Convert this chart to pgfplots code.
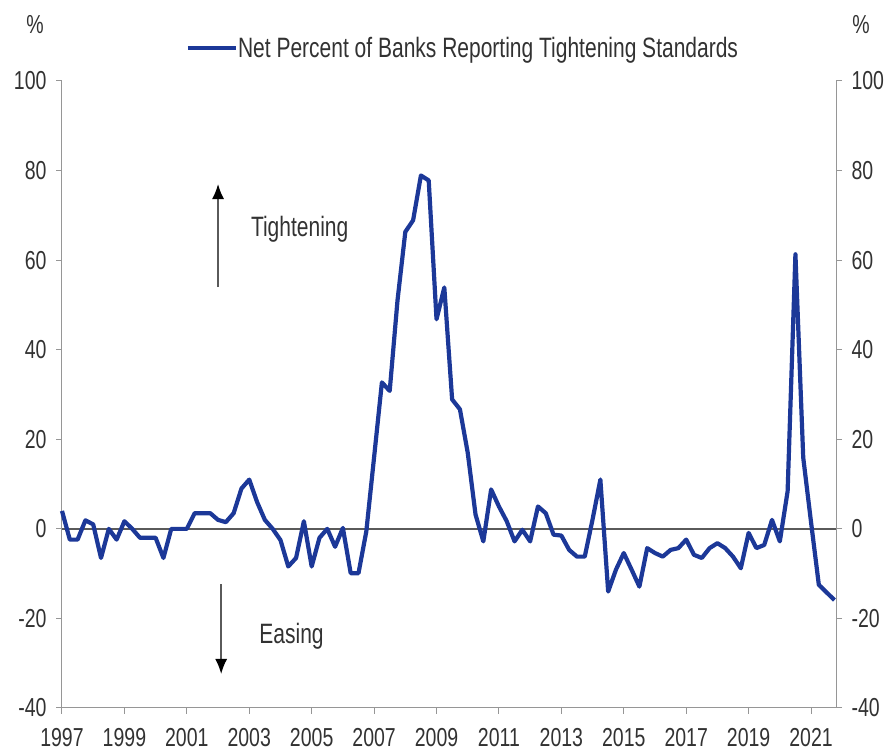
\documentclass[border=0pt]{standalone}
\usepackage{fontspec}
\setmainfont{Liberation Sans}[FakeStretch=0.75]
\usepackage{pgfplots}
\pgfplotsset{compat=1.18}
\usetikzlibrary{arrows.meta}
\definecolor{lineblue}{RGB}{28,56,152}
\definecolor{txt}{RGB}{50,50,50}
\definecolor{axgray}{RGB}{150,150,150}
\definecolor{zerogray}{RGB}{90,90,90}
\newcommand{\bigfont}{\fontsize{26}{30}\selectfont}
\newcommand{\annfont}{\fontsize{28}{32}\selectfont}
\begin{document}
\begin{tikzpicture}[font=\bigfont]
\useasboundingbox (-62pt,-47pt) rectangle (825pt,708pt);
\begin{axis}[
  at={(0pt,0pt)}, anchor=south west,
  scale only axis, width=774pt, height=627pt,
  xmin=1997, xmax=2021.8, ymin=-40, ymax=100,
  xtick={1997,1999,...,2021}, ytick={-40,-20,...,100},
  axis x line*=bottom, axis y line*=left,
  tick align=outside, major tick length=6pt,
  axis line style={axgray, line width=1pt},
  tick style={axgray, line width=1pt},
  /pgf/number format/assume math mode=true,
  x tick label style={/pgf/number format/1000 sep={}, font=\bigfont, text=txt, yshift=-11pt},
  y tick label style={font=\bigfont, text=txt, xshift=-6pt},
  legend style={at={(0.160,1.0526)}, anchor=west, draw=none, fill=none,
    font=\annfont, text=txt, inner sep=0pt, outer sep=0pt,
    nodes={inner xsep=0pt, inner ysep=0pt}},
  legend image code/.code={\draw[#1] (0pt,0pt) -- (48pt,0pt);},
  clip=false,
]
\addplot[zerogray, line width=1.8pt, forget plot] coordinates {(1997,0) (2021.8,0)};
\addplot[lineblue, line width=4.2pt, line join=round] coordinates {
(1997.00,4) (1997.25,-2.4) (1997.50,-2.4) (1997.75,1.9)
(1998.00,1) (1998.25,-6.5) (1998.50,0) (1998.75,-2.4)
(1999.00,1.7) (1999.25,0) (1999.50,-2) (1999.75,-2)
(2000.00,-2) (2000.25,-6.5) (2000.50,0) (2000.75,0)
(2001.00,0) (2001.25,3.5) (2001.50,3.5) (2001.75,3.5)
(2002.00,2) (2002.25,1.5) (2002.50,3.5) (2002.75,9)
(2003.00,11) (2003.25,6) (2003.50,2) (2003.75,0)
(2004.00,-2.5) (2004.25,-8.4) (2004.50,-6.5) (2004.75,1.7)
(2005.00,-8.4) (2005.25,-2) (2005.50,0) (2005.75,-4)
(2006.00,0.2) (2006.25,-9.9) (2006.50,-9.9) (2006.75,-0.6)
(2007.00,16) (2007.25,32.7) (2007.50,30.8) (2007.75,51)
(2008.00,66.3) (2008.25,68.9) (2008.50,78.9) (2008.75,77.8)
(2009.00,46.8) (2009.25,53.9) (2009.50,28.9) (2009.75,26.7)
(2010.00,17) (2010.25,3.2) (2010.50,-2.8) (2010.75,8.8)
(2011.00,5) (2011.25,1.7) (2011.50,-2.8) (2011.75,-0.2)
(2012.00,-2.8) (2012.25,5) (2012.50,3.5) (2012.75,-1.3)
(2013.00,-1.5) (2013.25,-4.7) (2013.50,-6.2) (2013.75,-6.2)
(2014.00,2.1) (2014.25,11) (2014.50,-14) (2014.75,-9.1)
(2015.00,-5.4) (2015.25,-9.1) (2015.50,-12.9) (2015.75,-4.3)
(2016.00,-5.4) (2016.25,-6.2) (2016.50,-4.7) (2016.75,-4.3)
(2017.00,-2.4) (2017.25,-5.8) (2017.50,-6.5) (2017.75,-4.3)
(2018.00,-3.2) (2018.25,-4.3) (2018.50,-6.2) (2018.75,-8.8)
(2019.00,-0.9) (2019.25,-4.3) (2019.50,-3.6) (2019.75,2)
(2020.00,-2.8) (2020.25,8.4) (2020.50,61.3) (2020.75,15.9)
(2021.00,1.5) (2021.25,-12.5) (2021.50,-14.2) (2021.75,-15.9)
};
\addlegendentry{Net Percent of Banks Reporting Tightening Standards}
\draw[zerogray, line width=1.5pt, -{Latex[length=15pt,width=12pt,black]}] (axis cs:2002.0,54) -- (axis cs:2002.0,77);
\node[anchor=west, text=txt, font=\annfont, inner sep=0pt] at (axis cs:2003.05,66.8) {Tightening};
\draw[zerogray, line width=1.5pt, -{Latex[length=15pt,width=12pt,black]}] (axis cs:2002.1,-12.4) -- (axis cs:2002.1,-32.4);
\node[anchor=west, text=txt, font=\annfont, inner sep=0pt] at (axis cs:2003.32,-24) {Easing};
\end{axis}
\begin{axis}[
  at={(0pt,0pt)}, anchor=south west,
  scale only axis, width=774pt, height=627pt,
  xmin=1997, xmax=2021.8, ymin=-40, ymax=100,
  ytick={-40,-20,...,100},
  axis x line=none, axis y line*=right,
  tick align=outside, major tick length=6pt,
  axis line style={axgray, line width=1pt},
  tick style={axgray, line width=1pt},
  /pgf/number format/assume math mode=true,
  y tick label style={font=\bigfont, text=txt, xshift=6pt},
]
\end{axis}
\node[text=txt, font=\bigfont] at (-27pt,683pt) {\%};
\node[text=txt, font=\bigfont] at (799pt,683pt) {\%};
\end{tikzpicture}
\end{document}
